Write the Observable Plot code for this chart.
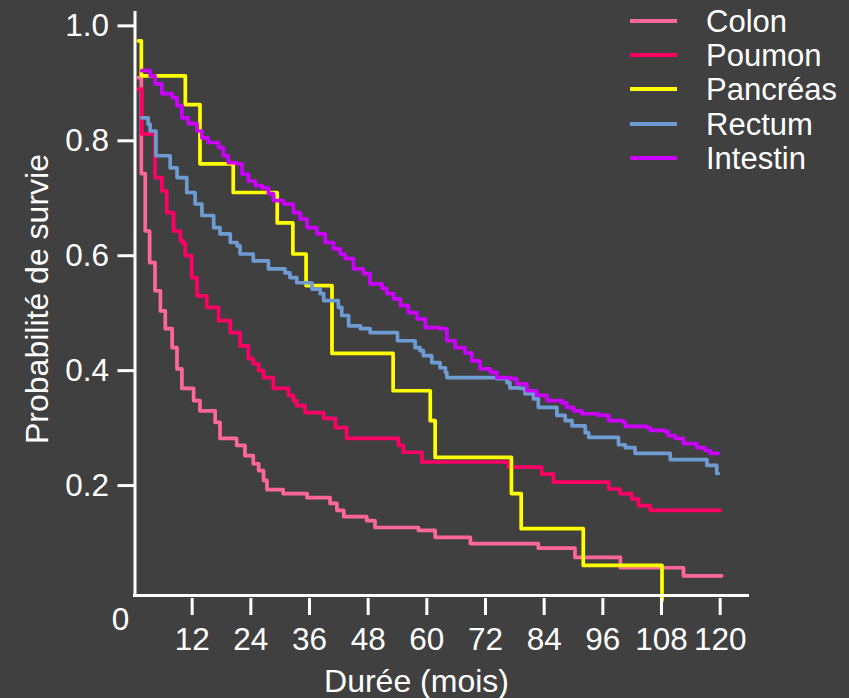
<!DOCTYPE html>
<html><head><meta charset="utf-8">
<script src="https://cdn.jsdelivr.net/npm/d3@7"></script>
<script src="https://cdn.jsdelivr.net/npm/@observablehq/plot@0.6"></script>
<style>
html,body{margin:0;padding:0;background:#404040;}
#wrap{position:relative;width:849px;height:698px;overflow:hidden;}
.lg{position:absolute;left:630px;height:34px;display:flex;align-items:center;font-family:"Liberation Sans",Arial,sans-serif;font-size:31px;line-height:1;color:#fff;white-space:nowrap;}
.lg span.sw{display:inline-block;width:47px;height:4.5px;margin-right:29px;}
</style></head><body><div id="wrap"></div>
<script>
const series = ["Colon","Poumon","Pancréas","Rectum","Intestin"];
const colors = ["#FF6699","#FF0066","#FFFF00","#6E9BD2","#CC00FF"];

const colonT = [1.0,1.6,2.4,3.3,4.4,5.5,6.5,7.9,8.9,9.9,12.3,13.6,16.7,17.7,21.1,22.8,24.5,25.6,26.6,27.3,30.6,35.5,40.2,41.6,43.0,47.7,49.4,58.3,61.7,68.9,82.8,90.3,99.6,112.5,120.3];
const colonS = [0.910,0.743,0.643,0.588,0.539,0.504,0.473,0.440,0.403,0.369,0.348,0.330,0.310,0.282,0.270,0.252,0.238,0.226,0.209,0.193,0.186,0.179,0.169,0.157,0.146,0.139,0.127,0.122,0.110,0.099,0.091,0.075,0.057,0.043,0.043];

const poumonT = [1.0,1.7,4.4,5.8,6.8,8.2,9.6,10.2,10.6,11.9,13.0,15.0,17.4,19.8,21.8,23.5,24.5,25.6,26.6,28.6,31.7,32.7,33.4,35.1,38.9,41.3,43.6,54.2,55.2,59.0,76.7,83.5,85.9,97.2,99.5,101.9,103.3,105.7,120];
const poumonS = [0.890,0.812,0.736,0.713,0.675,0.643,0.626,0.621,0.600,0.562,0.530,0.510,0.487,0.466,0.443,0.421,0.412,0.400,0.388,0.369,0.357,0.348,0.339,0.327,0.317,0.301,0.282,0.270,0.258,0.241,0.232,0.220,0.206,0.194,0.186,0.177,0.165,0.157,0.157];

const pancreasT = [1.0,1.6,10.6,13.6,20.4,29.4,32.6,35.3,40.6,53.1,60.7,61.7,77.3,79.3,92.0,108.1];
const pancreasS = [0.974,0.913,0.863,0.760,0.710,0.657,0.603,0.548,0.430,0.365,0.313,0.249,0.186,0.125,0.061,0];

const rectumT = [1.7,3.0,3.4,4.6,7.5,8.9,10.9,12.6,14.0,16.4,17.7,19.8,21.2,21.8,24.5,27.6,31.0,32.0,33.4,36.5,38.2,38.9,41.9,42.6,44.0,46.4,48.4,54.0,57.6,58.6,59.3,61.0,62.7,63.8,64.1,74.3,76.4,77.0,79.1,80.1,81.8,82.8,86.6,88.3,89.7,92.4,93.1,99.2,100.6,102.6,109.8,117.3,119.3,119.6];
const rectumS = [0.840,0.829,0.817,0.774,0.753,0.736,0.710,0.690,0.670,0.649,0.638,0.623,0.617,0.603,0.591,0.577,0.570,0.562,0.553,0.542,0.534,0.522,0.510,0.496,0.478,0.473,0.466,0.452,0.440,0.435,0.426,0.414,0.405,0.397,0.388,0.386,0.379,0.370,0.369,0.360,0.351,0.336,0.322,0.313,0.304,0.292,0.284,0.271,0.266,0.256,0.245,0.235,0.221,0.221];

const intestinT = [1.7,3.4,4.4,5.8,7.9,8.9,9.9,11.2,13.0,14.0,15.3,17.4,18.4,19.4,21.1,22.2,23.5,24.9,26.3,27.6,28.6,30.7,32.7,34.1,35.5,37.5,39.2,40.9,42.3,43.3,45.0,47.0,48.4,50.8,51.8,53.2,54.6,56.2,58.0,59.7,62.7,64.1,65.8,67.8,69.2,70.9,73.0,74.3,77.1,78.4,80.5,82.5,84.6,87.6,88.6,90.0,91.7,95.1,97.2,100.2,100.6,105.0,105.7,108.7,109.4,110.8,112.5,115.2,116.9,118.0,119.6];
const intestinS = [0.922,0.913,0.899,0.882,0.875,0.861,0.840,0.830,0.817,0.805,0.797,0.788,0.774,0.762,0.760,0.742,0.730,0.722,0.718,0.708,0.696,0.690,0.675,0.664,0.649,0.638,0.623,0.612,0.603,0.595,0.577,0.569,0.551,0.543,0.534,0.525,0.513,0.501,0.490,0.475,0.473,0.452,0.440,0.431,0.417,0.403,0.397,0.388,0.386,0.377,0.365,0.357,0.348,0.344,0.336,0.330,0.325,0.322,0.313,0.310,0.303,0.301,0.296,0.294,0.287,0.282,0.273,0.266,0.261,0.256,0.256];

const xTicks = [12,24,36,48,60,72,84,96,108,120];
const yTicks = [0.2,0.4,0.6,0.8,1.0];
const xTitle = ["Durée (mois)"];
const yTitle = ["Probabilité de survie"];
const originLabel = ["0"];

const times = [colonT, poumonT, pancreasT, rectumT, intestinT];
const survs = [colonS, poumonS, pancreasS, rectumS, intestinS];
const rows = series.flatMap((name, i) => times[i].map((t, j) => ({series: name, t, s: survs[i][j]})));

const FONT = "'Liberation Sans', Arial, sans-serif";
const chart = Plot.plot({
  width: 849, height: 698,
  marginLeft: 133, marginRight: 100, marginTop: 11, marginBottom: 98,
  style: {background: "#404040", color: "#fff", fontFamily: FONT},
  x: {domain: [0, 126]},
  y: {domain: [0, 1.025]},
  color: {domain: series, range: colors},
  marks: [
    Plot.line(rows, {x: "t", y: "s", z: "series", stroke: "series", curve: "step-after", strokeWidth: 3.7}),
    Plot.ruleY([0], {dy: -5, stroke: "#fff", strokeWidth: 3}),
    Plot.ruleX([0], {dx: 1.5, insetBottom: 5, stroke: "#fff", strokeWidth: 3}),
    Plot.axisX(xTicks, {tickSize: 17, tickPadding: 12, dy: -2, strokeWidth: 3, fontSize: 31.5, label: null, stroke: "#fff", fill: "#fff"}),
    Plot.axisY(yTicks, {tickSize: 17, tickPadding: 9, dx: 1.5, strokeWidth: 3, fontSize: 31.5, label: null, tickFormat: d3.format(".1f"), stroke: "#fff", fill: "#fff"}),
    Plot.text(originLabel, {text: d => d, frameAnchor: "bottom-left", textAnchor: "middle", lineAnchor: "middle", dx: -13, dy: 19, fontSize: 31.5, fill: "#fff"}),
    Plot.text(xTitle, {text: d => d, frameAnchor: "bottom", textAnchor: "middle", lineAnchor: "middle", dx: -25, dy: 81, fontSize: 32, fill: "#fff"}),
    Plot.text(yTitle, {text: d => d, frameAnchor: "left", textAnchor: "middle", lineAnchor: "middle", rotate: -90, dx: -96, dy: -7, fontSize: 32, fill: "#fff"})
  ]
});
const wrap = document.getElementById("wrap");
wrap.appendChild(chart);
const legendCenters = [21, 55, 89, 124, 158];
series.forEach((name, i) => {
  const row = document.createElement("div");
  row.className = "lg";
  row.style.top = (legendCenters[i] - 17) + "px";
  const sw = document.createElement("span");
  sw.className = "sw";
  sw.style.background = colors[i];
  row.appendChild(sw);
  row.appendChild(document.createTextNode(name));
  wrap.appendChild(row);
});
</script></body></html>
